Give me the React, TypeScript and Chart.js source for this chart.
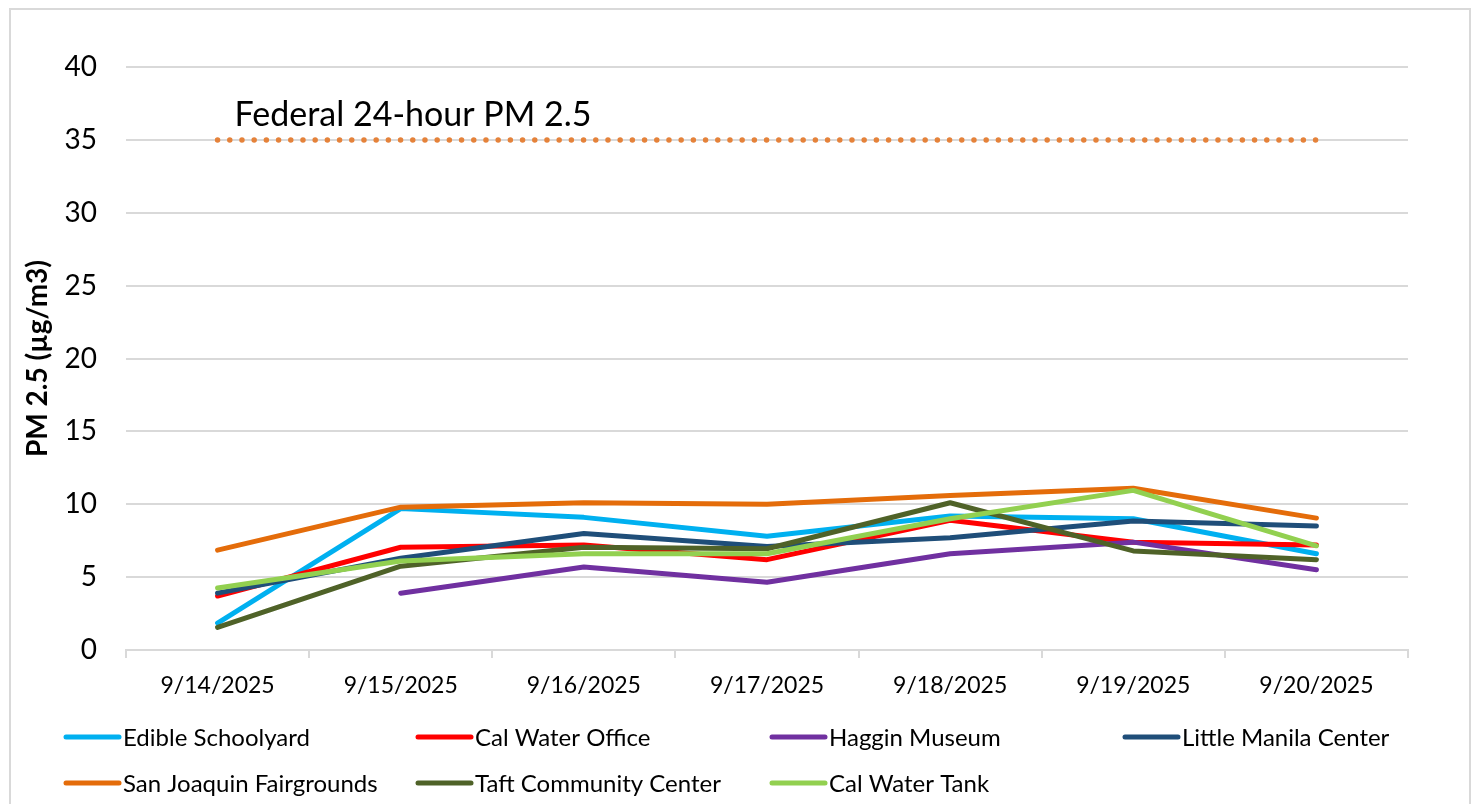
import React, { useEffect, useRef } from "react";
import { Chart, registerables } from "chart.js";

Chart.register(...registerables);

const dates = ["9/14/2025", "9/15/2025", "9/16/2025", "9/17/2025", "9/18/2025", "9/19/2025", "9/20/2025"];

const edibleSchoolyard = [1.85, 9.7, 9.1, 7.8, 9.2, 9.0, 6.6];
const calWaterOffice = [3.7, 7.05, 7.2, 6.2, 8.9, 7.4, 7.2];
const hagginMuseum = [null, 3.9, 5.7, 4.65, 6.6, 7.4, 5.5];
const littleManila = [3.9, 6.3, 8.0, 7.1, 7.7, 8.85, 8.5];
const sanJoaquin = [6.85, 9.8, 10.1, 10.0, 10.6, 11.1, 9.05];
const taftCommunity = [1.55, 5.75, 7.05, 6.95, 10.1, 6.8, 6.2];
const calWaterTank = [4.25, 6.1, 6.6, 6.6, 9.0, 10.95, 7.15];
const federalStandard = [35, 35, 35, 35, 35, 35, 35];

const seriesNames = [
  "Edible Schoolyard",
  "Cal Water Office",
  "Haggin Museum",
  "Little Manila Center",
  "San Joaquin Fairgrounds",
  "Taft Community Center",
  "Cal Water Tank",
];
const seriesValues = [edibleSchoolyard, calWaterOffice, hagginMuseum, littleManila, sanJoaquin, taftCommunity, calWaterTank];
const seriesColors = ["#00B0F0", "#FF0000", "#7030A0", "#1F4E79", "#E46C0A", "#4F6228", "#92D050"];

const yTicks = { min: 0, max: 40, step: 5 };
const federalLabel = "Federal 24-hour PM 2.5";
const yTitle = "PM 2.5 (µg/m3)";

const FONT = "Lato, 'Open Sans', sans-serif";

const extrasPlugin = {
  id: "extras",
  beforeDraw(chart: any) {
    const ctx = chart.ctx;
    ctx.save();
    ctx.fillStyle = "#ffffff";
    ctx.fillRect(0, 0, chart.width, chart.height);
    ctx.strokeStyle = "#D9D9D9";
    ctx.lineWidth = 2;
    ctx.strokeRect(10, 9, chart.width - 16, chart.height + 40);
    ctx.restore();
  },
  afterDraw(chart: any) {
    const ctx = chart.ctx;
    const xs = chart.scales.x;
    const ys = chart.scales.y;
    ctx.save();
    // federal label
    ctx.font = `34px ${FONT}`;
    ctx.fillStyle = "#000";
    ctx.textAlign = "left";
    ctx.textBaseline = "alphabetic";
    ctx.fillText(federalLabel, xs.getPixelForValue(0) + 17, ys.getPixelForValue(federalStandard[0]) - 14);

    // legend
    const colX = [63, 415, 769, 1122];
    const rowY = [737, 783];
    ctx.font = `24px ${FONT}`;
    ctx.textBaseline = "middle";
    seriesNames.forEach((name, i) => {
      const c = i % 4;
      const r = Math.floor(i / 4);
      const x = colX[c];
      const y = rowY[r];
      ctx.strokeStyle = seriesColors[i];
      ctx.lineWidth = 5;
      ctx.lineCap = "round";
      ctx.beginPath();
      ctx.moveTo(x + 3, y);
      ctx.lineTo(x + 56, y);
      ctx.stroke();
      ctx.fillStyle = "#000";
      ctx.fillText(name, x + 60, y + 1);
    });
    ctx.restore();
  },
};

export default function App() {
  const ref = useRef<HTMLCanvasElement | null>(null);
  useEffect(() => {
    if (!ref.current) return;
    const n = seriesNames.length;
    const datasets: any[] = seriesNames.map((name, i) => ({
      label: name,
      data: seriesValues[i],
      borderColor: seriesColors[i],
      backgroundColor: seriesColors[i],
      borderWidth: 5,
      borderCapStyle: "round",
      borderJoinStyle: "round",
      pointRadius: 0,
      pointHoverRadius: 0,
      tension: 0,
      spanGaps: false,
      fill: false,
      order: n - i + 1,
    }));
    datasets.push({
      label: "Federal",
      data: federalStandard,
      borderColor: "#E5823A",
      borderWidth: 5.5,
      borderDash: [0, 12.2],
      borderCapStyle: "round",
      pointRadius: 0,
      tension: 0,
      fill: false,
      order: n + 5,
    });
    const chart = new Chart(ref.current, {
      type: "line",
      data: { labels: dates, datasets },
      plugins: [extrasPlugin],
      options: {
        animation: false,
        responsive: true,
        maintainAspectRatio: false,
        layout: { padding: { top: 67, right: 68, bottom: 0, left: 0 } },
        plugins: { legend: { display: false }, tooltip: { enabled: false }, title: { display: false } },
        scales: {
          x: {
            type: "category",
            offset: true,
            grid: {
              offset: true,
              drawOnChartArea: false,
              drawTicks: true,
              tickLength: 8,
              color: "#D9D9D9",
              lineWidth: 2,
            },
            border: { display: true, color: "#D9D9D9", width: 2 },
            ticks: { font: { family: FONT, size: 23 }, color: "#000", padding: 14, maxRotation: 0, autoSkip: false },
            afterFit: (s: any) => {
              s.height = 154;
            },
          },
          y: {
            min: yTicks.min,
            max: yTicks.max,
            ticks: { stepSize: yTicks.step, font: { family: FONT, size: 28 }, color: "#000", padding: 29 },
            grid: { color: "#D9D9D9", lineWidth: 2, drawTicks: false },
            border: { display: false },
            title: {
              display: true,
              text: yTitle,
              font: { family: FONT, size: 28, weight: "bold" },
              color: "#000",
              padding: { top: 21, bottom: 0 },
            },
            afterFit: (s: any) => {
              s.width = 126;
            },
          },
        },
      } as any,
    });
    return () => chart.destroy();
  }, []);
  return (
    <div style={{ position: "absolute", left: 0, top: 0, width: 1476, height: 804, background: "#fff" }}>
      <canvas ref={ref} />
    </div>
  );
}
